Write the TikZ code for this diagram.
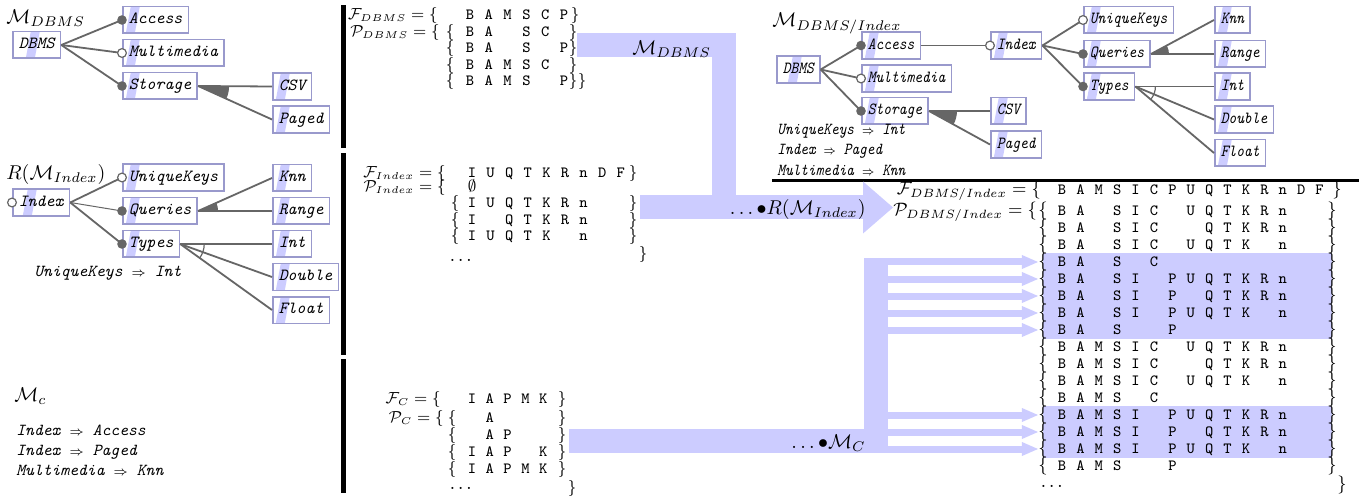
\documentclass[tikz,border=0pt]{standalone}
\usepackage{graphicx}
\usetikzlibrary{calc,arrows.meta}
\pgfdeclarelayer{back}
\pgfdeclarelayer{hl}
\pgfsetlayers{back,hl,main}

\definecolor{lav}{HTML}{CCCCFF}
\definecolor{fbd}{HTML}{9999CC}
\definecolor{gc}{HTML}{666666}

% horizontally squeezed text for the merged model
\newcommand\sqz[1]{\scalebox{0.87}[1]{#1}}
% a cross-tree constraint
\newcommand\impl[2]{#1~$\scriptstyle\Rightarrow$~#2}

% feature-model connectors
\newcommand\mandto[2]{\draw[conn] (#1.east) -- (#2.west); \fill[gc] (#2.west) circle[radius=2.4pt];}
\newcommand\optto[2]{\draw[conn] (#1.east) -- (#2.west); \filldraw[fill=white, draw=gc, line width=0.6pt] (#2.west) circle[radius=2.2pt];}
\newcommand\grpto[2]{\draw[conn] (#1.east) -- (#2.west);}
\newcommand\orgroup[4]{\fill[gc] let \p1=($(#2.west)-(#1.east)$), \p2=($(#3.west)-(#1.east)$),
  \n1={atan2(\y1,\x1)}, \n2={atan2(\y2,\x2)} in
  (#1.east) -- ++(\n1:#4) arc[start angle=\n1, end angle=\n2, radius=#4] -- cycle;}
\newcommand\altgroup[4]{\draw[draw=gc, line width=0.6pt] let \p1=($(#2.west)-(#1.east)$), \p2=($(#3.west)-(#1.east)$),
  \n1={atan2(\y1,\x1)}, \n2={atan2(\y2,\x2)} in
  (#1.east) ++(\n1:#4) arc[start angle=\n1, end angle=\n2, radius=#4];}

% rows of configuration sets
\newcommand\lrow[3]{%
  \foreach \ltr [count=\ci from 0] in {#3} {\node[ttl] (#1c\ci) at ({\bxo+\ci*\bst},#2) {\ltr};}}
\newcommand\srow[3]{%
  \node[br] (#1l) at (\bxl,#2) {$\{$};
  \node[br] (#1r) at (\bxr,#2) {$\}$};
  \lrow{#1}{#2}{#3}}
\def\bfs{7.8}

\tikzset{
  stripe off/.store in=\stripeoff, stripe off=1.5pt,
  feat/.style={draw=fbd, line width=0.8pt, fill=white, inner xsep=3pt, inner ysep=0pt,
    minimum height=13.3pt, text height=5.6pt, text depth=1.8pt, anchor=west,
    font=\fontsize{8.5}{10}\selectfont\ttfamily\itshape,
    path picture={\fill[lav] ([xshift=\stripeoff]path picture bounding box.south west)
      -- ++(4.5pt,0pt) -- ++(2.8pt,15pt) -- ++(-4.5pt,0pt) -- cycle;}},
  conn/.style={draw=gc, line width=0.9pt},
  band/.style={draw=lav, line width=12pt, line join=miter},
  rowarr/.style={draw=lav, line width=3.5pt, -{Triangle[length=8pt,width=7pt,line width=0pt]}},
  br/.style={anchor=base, inner sep=0pt, font=\fontsize{\bfs}{10}\selectfont},
  ttl/.style={anchor=base, inner sep=0pt, font=\fontsize{7.8}{9}\selectfont\ttfamily},
  lbl/.style={anchor=base east, inner sep=0pt, font=\fontsize{\bfs}{10}\selectfont},
  tit/.style={anchor=base west, inner sep=0pt},
  rulet/.style={anchor=base west, inner sep=0pt, font=\fontsize{8.4}{10}\selectfont\ttfamily\itshape},
}

\begin{document}
\begin{tikzpicture}[x=0.5pt,y=-0.5pt,font=\fontsize{9.8}{11.5}\selectfont]
\useasboundingbox (0,0) rectangle (1359,497);
\begin{pgfonlayer}{back}
  \fill[white] (0,0) rectangle (1359,497);
\end{pgfonlayer}

% ---------- separators ----------
\fill (341,5) rectangle (346,148);
\fill (341,153) rectangle (346,355);
\fill (341,359) rectangle (346,493);
\draw[line width=1.2pt] (772,180.5) -- (1359,180.5);

% ---------- composition bands ----------
\coordinate (dbOut) at (577,45.5);
\coordinate (dbJoin) at (724,207.5);
\coordinate (ixOut) at (640,207.5);
\coordinate (ixTip) at (893,207.5);
\coordinate (cOut) at (569,441);
\coordinate (vbTop) at (876,258.5);
\coordinate (vbx) at (876,300);
\draw[band] (dbOut) -| (dbJoin);
\draw[band, -{Triangle[length=15pt,width=26pt,line width=0pt]}] (ixOut) -- (ixTip);
\draw[band] (cOut) -| (vbTop);

\node[tit] (lbDB) at (632,55) {$\mathcal{M}_{DBMS}$};
\node[tit, anchor=base east] (lbIX) at (866,215) {$\ldots\mathord{\bullet} R(\mathcal{M}_{Index})$};
\node[tit, anchor=base east] (lbC) at (866,448) {$\ldots\mathord{\bullet}\mathcal{M}_C$};

% ---------- model M_DBMS ----------
\node[tit] (t1) at (6,23.5) {$\mathcal{M}_{DBMS}$};
\node[feat, stripe off=6.5pt] (l1dbms) at (12,45) {DBMS};
\node[feat] (l1acc) at (122,20) {Access};
\node[feat] (l1mm) at (122,53) {Multimedia};
\node[feat] (l1sto) at (122,86) {Storage};
\node[feat] (l1csv) at (272,86.5) {CSV};
\node[feat] (l1pag) at (272,119.5) {Paged};
\mandto{l1dbms}{l1acc}
\optto{l1dbms}{l1mm}
\mandto{l1dbms}{l1sto}
\grpto{l1sto}{l1csv}
\grpto{l1sto}{l1pag}
\orgroup{l1sto}{l1csv}{l1pag}{15.5pt}

% ---------- model R(M_Index) ----------
\node[tit] (t2) at (6,180) {$R(\mathcal{M}_{Index})$};
\node[feat, stripe off=5pt] (l2idx) at (12,202.5) {Index};
\node[feat] (l2uk) at (122,177.5) {UniqueKeys};
\node[feat] (l2q) at (122,211) {Queries};
\node[feat] (l2t) at (122,244) {Types};
\node[feat] (l2knn) at (272,178) {Knn};
\node[feat] (l2rng) at (272,211) {Range};
\node[feat] (l2int) at (272,244) {Int};
\node[feat] (l2dbl) at (272,277) {Double};
\node[feat] (l2flt) at (272,310) {Float};
\filldraw[fill=white, draw=gc, line width=0.6pt] (l2idx.west) circle[radius=2.2pt];
\optto{l2idx}{l2uk}
\draw[draw=gc, line width=0.5pt] (l2idx.east) -- (l2q.west); \fill[gc] (l2q.west) circle[radius=2.4pt];
\mandto{l2idx}{l2t}
\grpto{l2q}{l2knn}
\grpto{l2q}{l2rng}
\orgroup{l2q}{l2knn}{l2rng}{10pt}
\grpto{l2t}{l2int}
\grpto{l2t}{l2dbl}
\grpto{l2t}{l2flt}
\altgroup{l2t}{l2int}{l2flt}{12pt}
\node[rulet] (c2a) at (34,277) {\impl{UniqueKeys}{Int}};

% ---------- constraints M_c ----------
\node[tit] (t3) at (14,401) {$\mathcal{M}_c$};
\node[rulet] (c3a) at (16,435.5) {\impl{Index}{Access}};
\node[rulet] (c3b) at (16,455.5) {\impl{Index}{Paged}};
\node[rulet] (c3c) at (16,475.5) {\impl{Multimedia}{Knn}};

% ---------- merged model M_DBMS/Index ----------
\node[tit] (t4) at (772,27) {$\mathcal{M}_{DBMS/Index}$};
\node[feat, stripe off=5.5pt] (r1dbms) at (776,69.5) {\sqz{DBMS}};
\node[feat] (r1acc) at (861,45.5) {\sqz{Access}};
\node[feat] (r1mm) at (861,78.5) {\sqz{Multimedia}};
\node[feat] (r1sto) at (861,111) {\sqz{Storage}};
\node[feat] (r1csv) at (990,111) {\sqz{CSV}};
\node[feat] (r1pag) at (990,144.5) {\sqz{Paged}};
\node[feat] (r1idx) at (990,45.5) {\sqz{Index}};
\node[feat] (r1uk) at (1083,20) {\sqz{UniqueKeys}};
\node[feat] (r1q) at (1083,54) {\sqz{Queries}};
\node[feat] (r1t) at (1083,86.5) {\sqz{Types}};
\node[feat] (r1knn) at (1214,20) {\sqz{Knn}};
\node[feat] (r1rng) at (1214,54) {\sqz{Range}};
\node[feat] (r1int) at (1214,86.5) {\sqz{Int}};
\node[feat] (r1dbl) at (1214,119.5) {\sqz{Double}};
\node[feat] (r1flt) at (1214,153) {\sqz{Float}};
\mandto{r1dbms}{r1acc}
\optto{r1dbms}{r1mm}
\mandto{r1dbms}{r1sto}
\grpto{r1sto}{r1csv}
\grpto{r1sto}{r1pag}
\orgroup{r1sto}{r1csv}{r1pag}{14pt}
\optto{r1acc}{r1idx}
\optto{r1idx}{r1uk}
\mandto{r1idx}{r1q}
\mandto{r1idx}{r1t}
\grpto{r1q}{r1knn}
\grpto{r1q}{r1rng}
\orgroup{r1q}{r1knn}{r1rng}{9pt}
\grpto{r1t}{r1int}
\grpto{r1t}{r1dbl}
\grpto{r1t}{r1flt}
\altgroup{r1t}{r1int}{r1flt}{10pt}
\node[rulet] (c4a) at (777,134.5) {\sqz{\impl{UniqueKeys}{Int}}};
\node[rulet] (c4b) at (777,155) {\sqz{\impl{Index}{Paged}}};
\node[rulet] (c4c) at (777,175.5) {\sqz{\impl{Multimedia}{Knn}}};

% ---------- F/P of M_DBMS ----------
\def\bfs{7.8}
\def\bxl{450}\def\bxr{573}\def\bxo{470}\def\bst{18.8}
\node[lbl] (dbF) at (438,19.5) {$\mathcal{F}_{DBMS}=\{$};
\lrow{dbf}{19.5}{B,A,M,S,C,P}
\node[br] (dbFr) at (575,19.5) {$\}$};
\node[lbl] (dbP) at (440,36.5) {$\mathcal{P}_{DBMS}=\{$};
\srow{db1}{36.5}{B,A,{},S,C}
\srow{db2}{53}{B,A,{},S,{},P}
\srow{db3}{69.5}{B,A,M,S,C}
\srow{db4}{86}{B,A,M,S,{},P}
\node[br] (dbPr) at (582,86) {$\}$};

% ---------- F/P of Index ----------
\def\bxl{455}\def\bxr{633}\def\bxo{472}\def\bst{18.6}
\node[lbl] (ixF) at (446,177.5) {$\mathcal{F}_{Index}=\{$};
\lrow{ixf}{177.5}{I,U,Q,T,K,R,n,D,F}
\node[br] (ixFr) at (633,177.5) {$\}$};
\node[lbl] (ixP) at (446,191.5) {$\mathcal{P}_{Index}=\{$};
\node[br] (ixE) at (472,191.5) {$\emptyset$};
\srow{ix1}{208}{I,U,Q,T,K,R,n}
\srow{ix2}{224.5}{I,{},Q,T,K,R,n}
\srow{ix3}{241}{I,U,Q,T,K,{},n}
\node[ttl, anchor=base west] (ixdots) at (448,262) {...};
\node[br] (ixPr) at (643,258) {$\}$};

% ---------- F/P of M_C ----------
\def\bxl{452}\def\bxr{562}\def\bxo{472}\def\bst{17.8}
\node[lbl] (cF) at (441,403.5) {$\mathcal{F}_{C}=\{$};
\lrow{cf}{403.5}{I,A,P,M,K}
\node[br] (cFr) at (562,403.5) {$\}$};
\node[lbl] (cP) at (444,422.5) {$\mathcal{P}_{C}=\{$};
\srow{c1}{422.5}{{},A}
\srow{c2}{439.5}{{},A,P}
\srow{c3}{456.5}{I,A,P,{},K}
\srow{c4}{473.5}{I,A,P,M,K}
\node[ttl, anchor=base west] (cdots) at (448,489) {...};
\node[br] (cPr) at (572,492) {$\}$};

% ---------- F/P of M_DBMS/Index ----------
\def\bfs{8.6}
\def\bxl{1043}\def\bxr{1332}\def\bxo{1062}\def\bst{18.4}
\node[lbl] (mF) at (1041.3,194.5) {$\mathcal{F}_{DBMS/Index}=\{$};
\lrow{mf}{194.5}{B,A,M,S,I,C,P,U,Q,T,K,R,n,D,F}
\node[br] (mFr) at (1337,194.5) {$\}$};
\node[lbl] (mP) at (1037.3,215.5) {$\mathcal{P}_{DBMS/Index}=\{$};
\srow{q1}{215.5}{B,A,{},S,I,C,{},U,Q,T,K,R,n}
\srow{q2}{232.5}{B,A,{},S,I,C,{},{},Q,T,K,R,n}
\srow{q3}{249.5}{B,A,{},S,I,C,{},U,Q,T,K,{},n}
\srow{q4}{266.5}{B,A,{},S,{},C}
\srow{q5}{283.5}{B,A,{},S,I,{},P,U,Q,T,K,R,n}
\srow{q6}{300.5}{B,A,{},S,I,{},P,{},Q,T,K,R,n}
\srow{q7}{317.5}{B,A,{},S,I,{},P,U,Q,T,K,{},n}
\srow{q8}{334.5}{B,A,{},S,{},{},P}
\srow{q9}{351.5}{B,A,M,S,I,C,{},U,Q,T,K,R,n}
\srow{q10}{368.5}{B,A,M,S,I,C,{},{},Q,T,K,R,n}
\srow{q11}{385.5}{B,A,M,S,I,C,{},U,Q,T,K,{},n}
\srow{q12}{402.5}{B,A,M,S,{},C}
\srow{q13}{419.5}{B,A,M,S,I,{},P,U,Q,T,K,R,n}
\srow{q14}{436.5}{B,A,M,S,I,{},P,{},Q,T,K,R,n}
\srow{q15}{453.5}{B,A,M,S,I,{},P,U,Q,T,K,{},n}
\srow{q16}{470.5}{B,A,M,S,{},{},P}
\node[ttl, anchor=base west] (mdots) at (1039,487) {...};
\node[br] (mPr) at (1342,489) {$\}$};

% highlighted configurations
\begin{pgfonlayer}{hl}
  \fill[lav] (q4l.north) rectangle (q8r.south);
  \fill[lav] (q13l.north) rectangle (q15r.south);
\end{pgfonlayer}

% arrows into the highlighted configurations
\foreach \r in {q4,q5,q6,q7,q8,q13,q14,q15}
  \draw[rowarr] (vbx |- \r l.center) -- (\r l.west);

\end{tikzpicture}
\end{document}
